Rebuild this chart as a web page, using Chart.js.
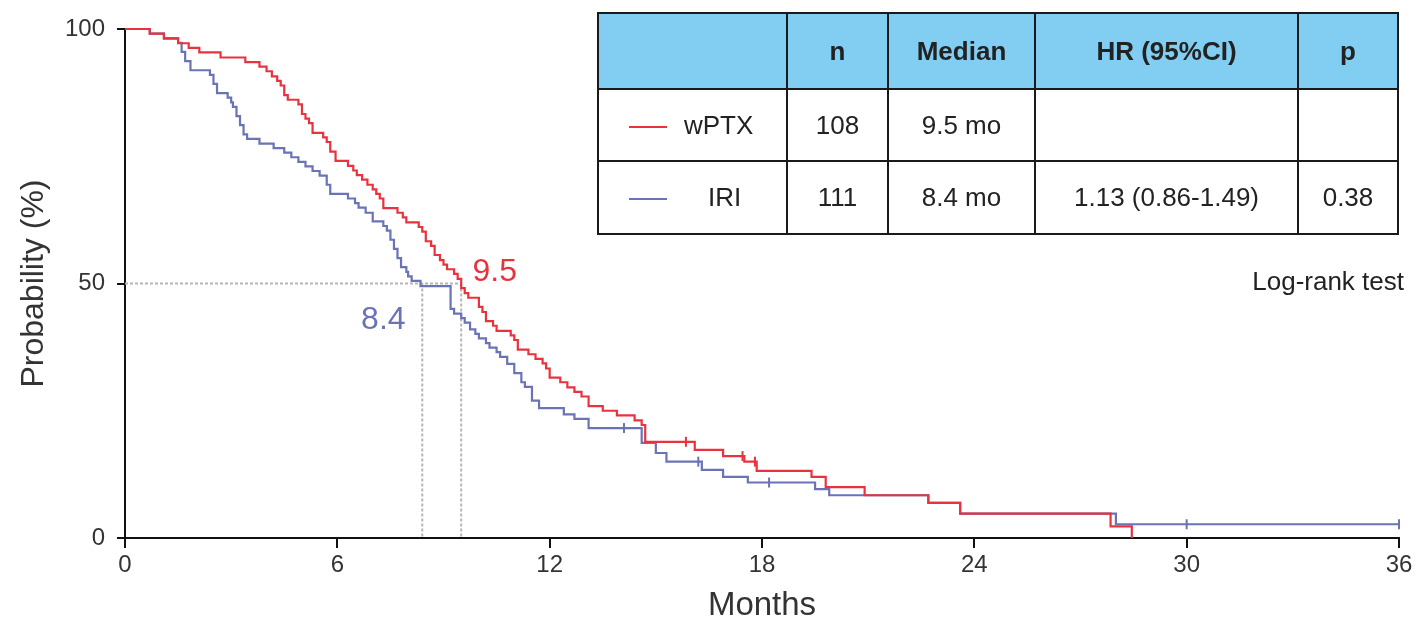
<!DOCTYPE html>
<html>
<head>
<meta charset="utf-8">
<script src="https://cdn.jsdelivr.net/npm/chart.js@4.4.0/dist/chart.umd.min.js"></script>
<style>
html, body { margin: 0; padding: 0; background: #fff; }
#wrap { position: relative; width: 1417px; height: 643px; }
#tbl { position: absolute; left: 597px; top: 12px; width: 800px; table-layout: fixed; border-collapse: collapse;
       font-family: 'Liberation Sans', Arial, sans-serif; font-size: 26px; color: #222; }
#tbl td, #tbl th { border: 2px solid #1a1a1a; text-align: center; padding: 0; white-space: nowrap; }
#tbl th { background: #82cdf2; font-weight: bold; }
#tbl td.arm { text-align: left; padding-left: 30px; }
.swatch { display: inline-block; width: 38px; height: 2px; vertical-align: middle; }
#logrank { position: absolute; right: 13px; top: 266px; font-family: 'Liberation Sans', Arial, sans-serif;
           font-size: 26px; color: #222; }
</style>
</head>
<body>
<div id="wrap">
  <canvas id="myChart" width="1417" height="643"></canvas>
  <table id="tbl">
    <colgroup><col style="width:189px"><col style="width:101px"><col style="width:147px"><col style="width:263px"><col style="width:100px"></colgroup>
    <thead><tr style="height:76px" id="headRow"></tr></thead>
    <tbody id="tbody"></tbody>
  </table>
  <div id="logrank">Log-rank test</div>
</div>
<script>
// wPTX arm (red)
var wptxMonths = [0, 0.7, 1.1, 1.5, 1.8, 2.1, 2.7, 3.4, 3.8, 4.0, 4.15, 4.3, 4.4, 4.5, 4.6, 4.9, 5.0, 5.1, 5.2, 5.3, 5.6, 5.7, 5.8, 5.95,
  6.3, 6.45, 6.55, 6.7, 6.85, 7.0, 7.1, 7.2, 7.3, 7.7, 7.85, 7.95, 8.3, 8.4, 8.5, 8.65, 8.75, 8.9, 9.0, 9.1, 9.3, 9.4, 9.5, 9.6, 9.7,
  10.0, 10.1, 10.2, 10.4, 10.5, 10.9, 11.0, 11.1, 11.4, 11.6, 11.8, 11.9, 12.0, 12.3, 12.5, 12.7, 12.9, 13.1, 13.5, 13.9, 14.4, 14.6,
  14.7, 16.1, 16.9, 17.5, 17.85, 19.4, 19.8, 20.9, 22.7, 23.6, 27.85, 28.45];
var wptxSurv = [100, 99.1, 98.1, 97.2, 96.3, 95.4, 94.4, 93.5, 92.6, 91.7, 90.7, 89.8, 88.9, 87.0, 86.1, 85.2, 83.3, 82.4, 81.5, 79.6, 78.7, 77.8, 75.9, 74.1,
  73.1, 72.2, 71.3, 70.4, 69.4, 68.5, 67.6, 66.7, 64.8, 63.9, 63.0, 62.0, 61.1, 60.2, 58.3, 57.4, 55.6, 54.6, 53.7, 52.8, 51.9, 50.9, 49.1, 48.1, 47.2,
  45.4, 44.4, 42.6, 41.7, 40.7, 39.8, 38.9, 37.0, 36.1, 35.2, 34.3, 33.3, 31.5, 30.6, 29.6, 28.7, 27.8, 25.9, 25.0, 24.1, 23.1, 22.2,
  18.9, 17.3, 16.1, 15.0, 13.2, 12.0, 10.0, 8.4, 6.9, 4.8, 2.3, 0];
var wptxCensorMonths = [15.85, 17.45, 17.8];
var wptxCensorSurv = [18.9, 16.1, 15.0];

// IRI arm (blue)
var iriMonths = [0, 0.7, 1.1, 1.5, 1.6, 1.7, 1.85, 2.4, 2.5, 2.6, 2.9, 3.0, 3.05, 3.15, 3.25, 3.35, 3.45, 3.8, 4.2, 4.5, 4.7, 4.9, 5.1, 5.3,
  5.5, 5.7, 5.8, 6.3, 6.5, 6.6, 6.8, 7.0, 7.3, 7.4, 7.5, 7.6, 7.7, 7.8, 7.95, 8.0, 8.1, 8.35, 9.2, 9.3, 9.5, 9.6, 9.75, 9.9, 10.0,
  10.2, 10.3, 10.5, 10.6, 10.8, 11.0, 11.2, 11.3, 11.5, 11.7, 12.4, 12.7, 13.1, 14.6, 15.0, 15.3, 16.3, 16.9, 17.6, 19.5, 19.9,
  22.7, 23.6, 28.0, 36];
var iriSurv = [100, 99.1, 98.2, 97.3, 95.5, 93.7, 91.9, 91.0, 89.2, 87.4, 86.5, 85.6, 84.7, 82.9, 81.1, 79.3, 78.4, 77.5, 76.6, 75.7, 74.8, 73.9, 73.0, 72.1,
  71.2, 69.4, 67.6, 66.7, 65.8, 64.9, 63.9, 62.2, 61.3, 60.4, 58.6, 56.8, 55.0, 53.2, 52.3, 51.4, 50.5, 49.5, 45.0, 44.1, 43.2, 42.3, 41.0, 40.1, 39.2,
  38.3, 37.4, 36.5, 35.6, 34.2, 32.4, 30.6, 29.7, 27.0, 25.5, 24.3, 23.4, 21.6, 18.7, 16.7, 15.0, 13.4, 12.0, 10.9, 9.6, 8.4,
  6.9, 4.8, 2.7, 2.7];
var iriCensorMonths = [14.1, 16.2, 18.2, 30, 36];
var iriCensorSurv = [21.6, 15.0, 10.9, 2.7, 2.7];

var arms = ["wPTX", "IRI"];
var armN = ["108", "111"];
var armMedian = [9.5, 8.4];
var armHR = ["", "1.13 (0.86-1.49)"];
var armP = ["", "0.38"];
var tableHead = ["", "n", "Median", "HR (95%CI)", "p"];

var xTicks = [0, 6, 12, 18, 24, 30, 36];
var yTicks = [0, 50, 100];

var red = "#e8333f";
var blue = "#6a73b6";
var armColors = [red, blue];

function pts(xs, ys) {
  return xs.map(function (x, i) { return { x: x, y: ys[i] }; });
}

// table
var head = document.getElementById("headRow");
tableHead.forEach(function (h) {
  var th = document.createElement("th");
  th.textContent = h;
  head.appendChild(th);
});
var tbody = document.getElementById("tbody");
arms.forEach(function (a, i) {
  var tr = document.createElement("tr");
  tr.style.height = i == 0 ? "72px" : "73px";
  var c0 = document.createElement("td");
  c0.className = "arm";
  c0.innerHTML = '<span class="swatch" style="background:' + armColors[i] + ';margin-right:' + (i == 0 ? 17 : 41) + 'px"></span>' + a;
  tr.appendChild(c0);
  [armN[i], armMedian[i].toFixed(1) + " mo", armHR[i], armP[i]].forEach(function (v) {
    var td = document.createElement("td");
    td.textContent = v;
    tr.appendChild(td);
  });
  tbody.appendChild(tr);
});

// dotted median guides + labels
var medianLines = {
  id: "medianLines",
  beforeDatasetsDraw: function (chart) {
    var ctx = chart.ctx, xs = chart.scales.x, ys = chart.scales.y;
    var maxMed = Math.max.apply(null, armMedian);
    ctx.save();
    ctx.strokeStyle = "#b5b5b5";
    ctx.lineWidth = 2;
    ctx.setLineDash([3, 2]);
    ctx.beginPath();
    ctx.moveTo(xs.getPixelForValue(0), ys.getPixelForValue(50));
    ctx.lineTo(xs.getPixelForValue(maxMed), ys.getPixelForValue(50));
    armMedian.forEach(function (m) {
      ctx.moveTo(xs.getPixelForValue(m), ys.getPixelForValue(50));
      ctx.lineTo(xs.getPixelForValue(m), ys.getPixelForValue(0));
    });
    ctx.stroke();
    ctx.restore();
  },
  afterDatasetsDraw: function (chart) {
    var ctx = chart.ctx, xs = chart.scales.x, ys = chart.scales.y;
    var spots = [[10.45, 52.3], [7.3, 42.8]];
    ctx.save();
    ctx.font = "32px 'Liberation Sans', Arial, sans-serif";
    ctx.textAlign = "center";
    ctx.textBaseline = "middle";
    armMedian.forEach(function (m, i) {
      ctx.fillStyle = armColors[i];
      ctx.fillText(m.toFixed(1), xs.getPixelForValue(spots[i][0]), ys.getPixelForValue(spots[i][1]));
    });
    ctx.restore();
  }
};

new Chart("myChart", {
  type: "line",
  data: {
    datasets: [
      { data: pts(wptxMonths, wptxSurv), borderColor: red, borderWidth: 2.2, stepped: true, pointRadius: 0, clip: 5 },
      { data: pts(wptxCensorMonths, wptxCensorSurv), borderColor: red, showLine: false, pointStyle: "line", rotation: 90, pointRadius: 5, pointBorderWidth: 2, clip: 5 },
      { data: pts(iriMonths, iriSurv), borderColor: blue, borderWidth: 2.2, stepped: true, pointRadius: 0, clip: 5 },
      { data: pts(iriCensorMonths, iriCensorSurv), borderColor: blue, showLine: false, pointStyle: "line", rotation: 90, pointRadius: 5, pointBorderWidth: 2, clip: 5 }
    ]
  },
  options: {
    responsive: false,
    animation: false,
    layout: { padding: { top: 29, right: 18, left: 0, bottom: 0 } },
    plugins: { legend: { display: false }, tooltip: { enabled: false } },
    scales: {
      x: {
        type: "linear", min: 0, max: 36,
        afterBuildTicks: function (s) { s.ticks = xTicks.map(function (v) { return { value: v }; }); },
        afterFit: function (s) { s.height = 105; },
        grid: { drawOnChartArea: false, color: "#111", lineWidth: 2, tickLength: 10 },
        border: { color: "#111", width: 2 },
        ticks: { color: "#333", padding: 3, font: { size: 24, family: "'Liberation Sans', Arial, sans-serif" } },
        title: { display: true, text: "Months", color: "#333", padding: { bottom: 17 }, font: { size: 33, family: "'Liberation Sans', Arial, sans-serif" } }
      },
      y: {
        min: 0, max: 100,
        afterBuildTicks: function (s) { s.ticks = yTicks.map(function (v) { return { value: v }; }); },
        afterFit: function (s) { s.width = 125; },
        grid: { drawOnChartArea: false, color: "#111", lineWidth: 2, tickLength: 8 },
        border: { color: "#111", width: 2 },
        ticks: { color: "#333", padding: 12, font: { size: 24, family: "'Liberation Sans', Arial, sans-serif" } },
        title: { display: true, text: "Probability (%)", color: "#333", padding: { top: 15 }, font: { size: 32, family: "'Liberation Sans', Arial, sans-serif" } }
      }
    }
  },
  plugins: [medianLines]
});
</script>
</body>
</html>
